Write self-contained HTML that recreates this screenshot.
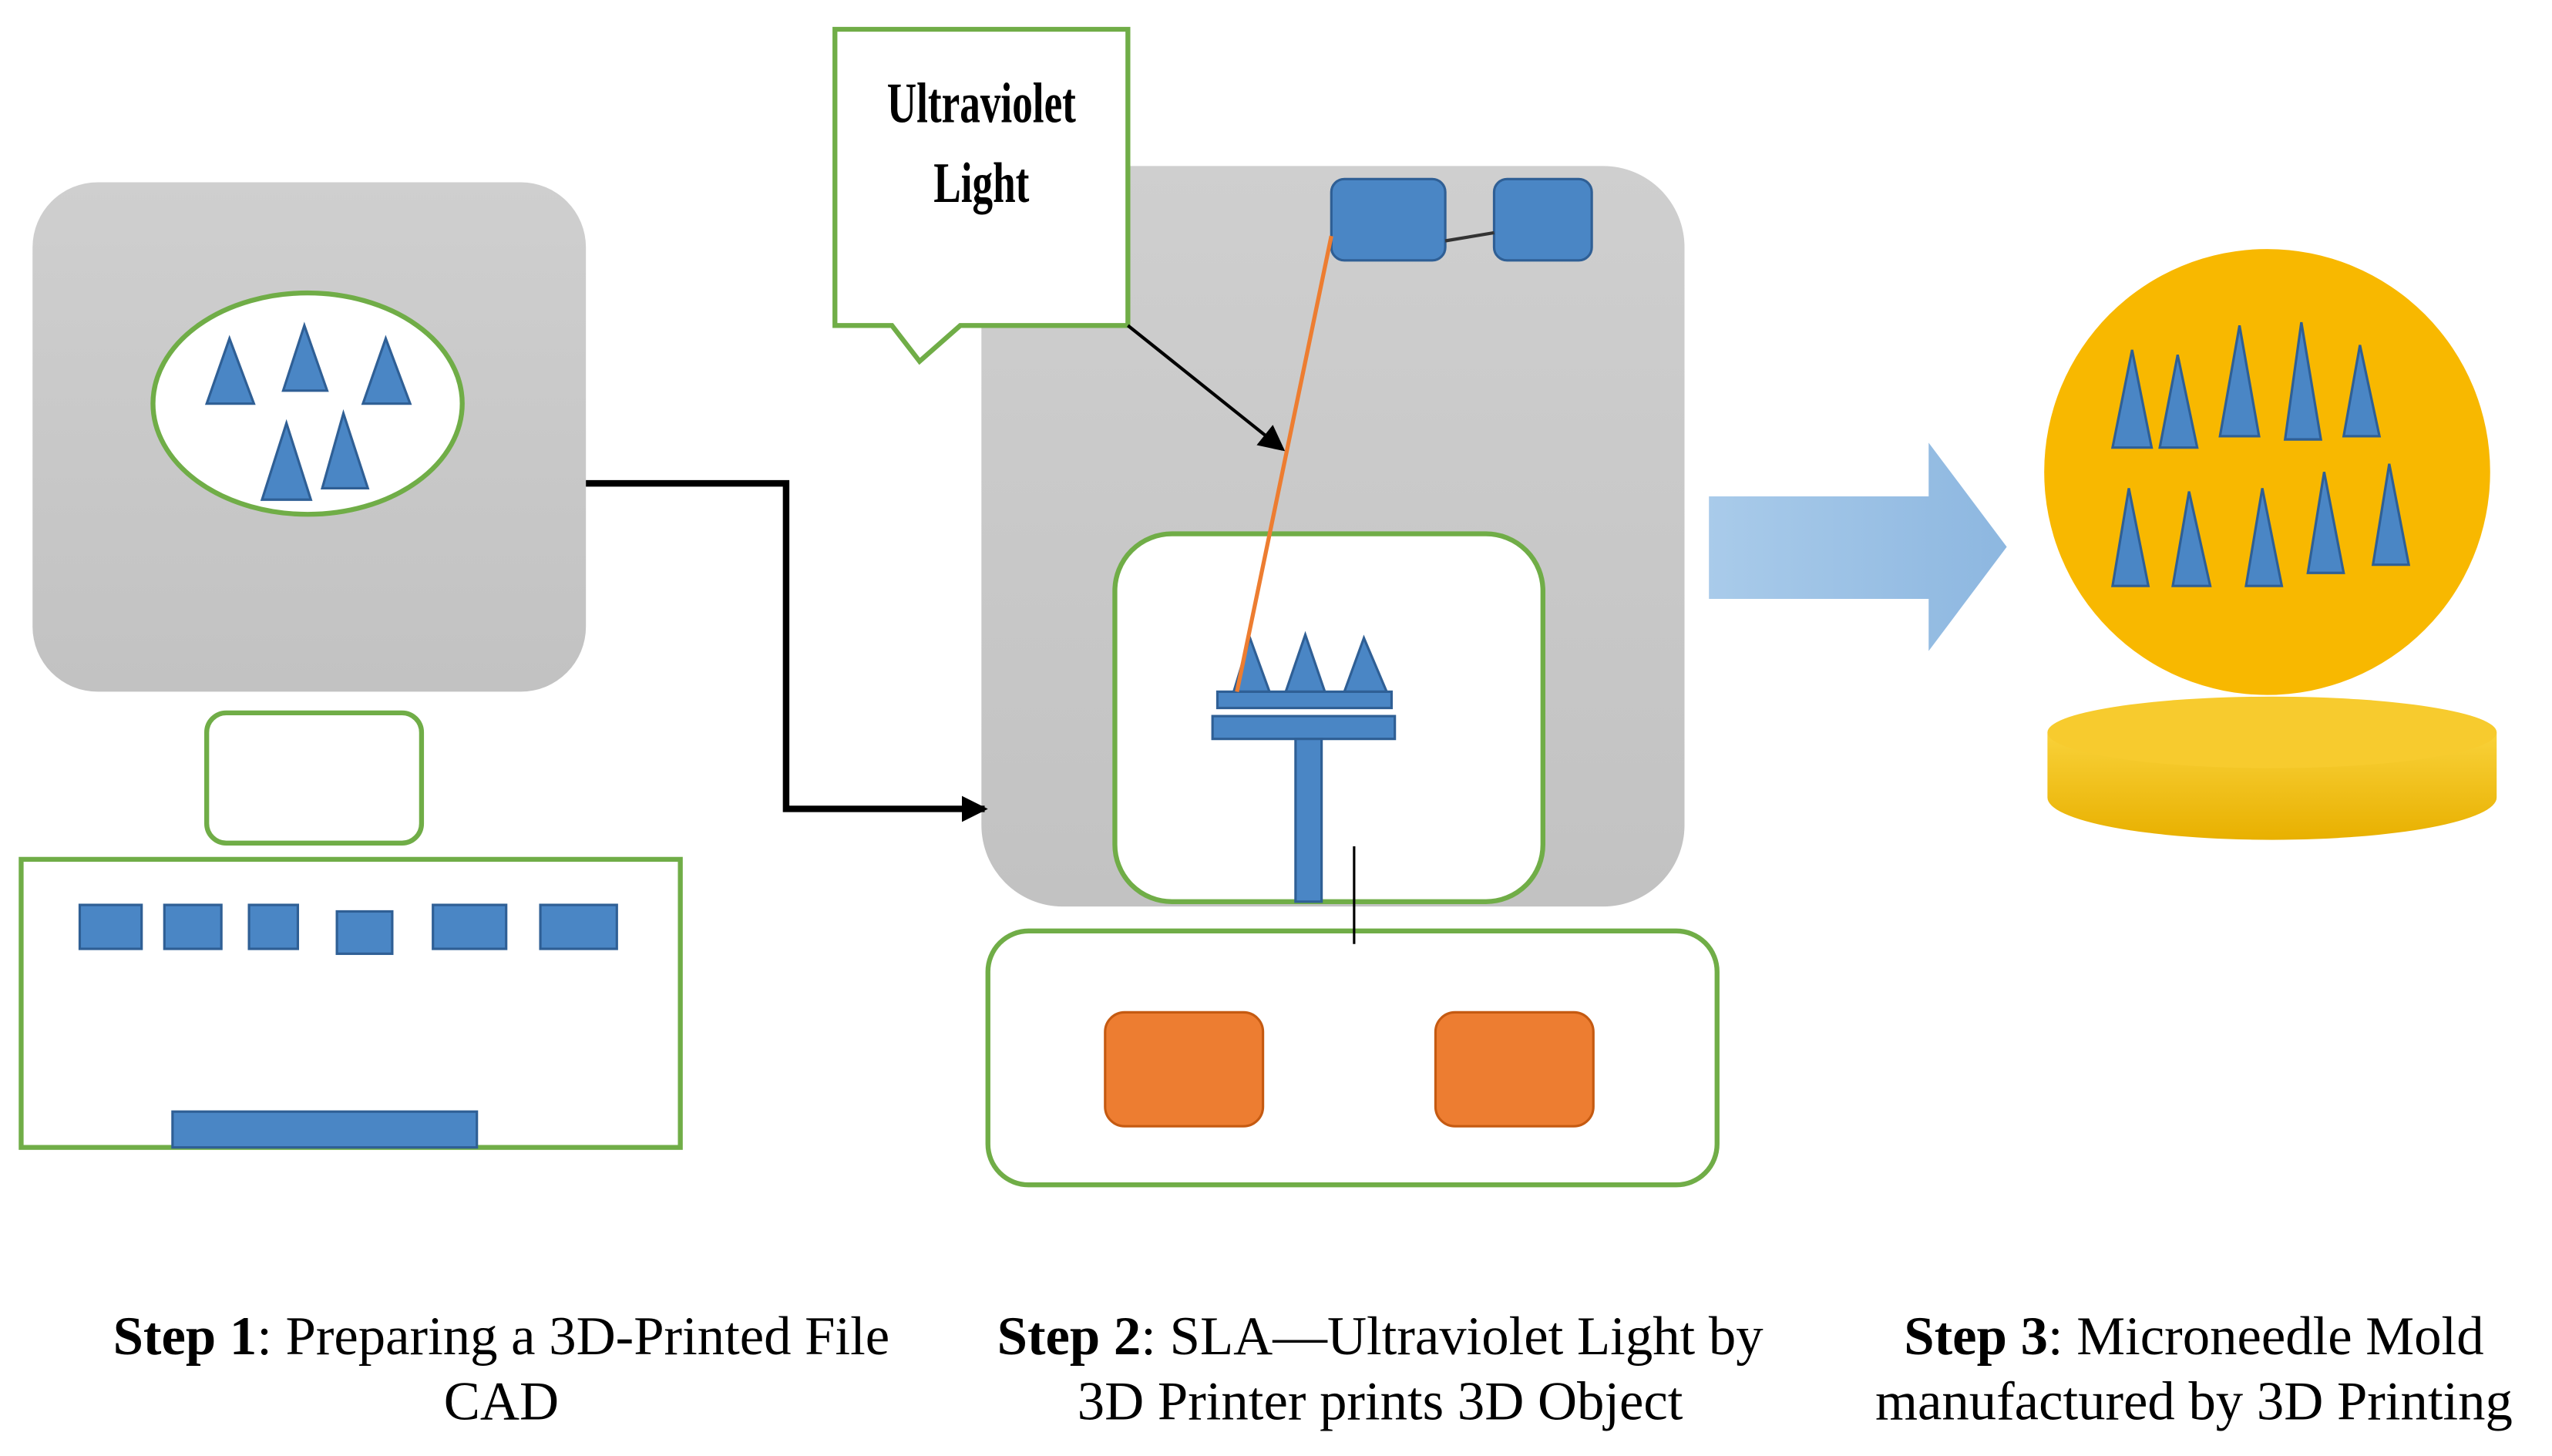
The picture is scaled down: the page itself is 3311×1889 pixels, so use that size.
<!DOCTYPE html>
<html><head><meta charset="utf-8"><style>html,body{margin:0;padding:0;background:#fff}svg{display:block}</style></head><body>
<svg width="3311" height="1889" viewBox="0 0 1568 894.6" preserveAspectRatio="none" xmlns="http://www.w3.org/2000/svg">
<defs>
<linearGradient id="g1" x1="0" y1="0" x2="0" y2="1"><stop offset="0" stop-color="#cfcfcf"/><stop offset="1" stop-color="#c2c2c2"/></linearGradient>
<linearGradient id="ar" x1="0" y1="0" x2="1" y2="0"><stop offset="0" stop-color="#a9cbea"/><stop offset="1" stop-color="#8db7e0"/></linearGradient>
<linearGradient id="cy" x1="0" y1="0" x2="0" y2="1"><stop offset="0" stop-color="#f9d23a"/><stop offset="1" stop-color="#e8b000"/></linearGradient>
<marker id="ah" markerWidth="16" markerHeight="16" refX="14" refY="8" orient="auto" markerUnits="userSpaceOnUse"><path d="M0,0 L16,8 L0,16z" fill="#000"/></marker>
</defs>
<g stroke="#70ad47" stroke-width="3" fill="#fff">
<rect x="20" y="112" width="340" height="313" rx="40" fill="url(#g1)" stroke="none"/>
<ellipse cx="189" cy="248" rx="95" ry="68"/>
<rect x="127" y="438" width="132" height="80" rx="12"/>
<rect x="13" y="528" width="405" height="177"/>
<rect x="603" y="102" width="432" height="455" rx="50" fill="url(#g1)" stroke="none"/>
<rect x="685" y="328" width="263" height="226" rx="35"/>
<rect x="607" y="572" width="448" height="156" rx="25"/>
<path d="M513,18 H693 V200 H590 L565,222 L548,200 H513 Z"/>
</g>
<g fill="#4a86c5" stroke="#2f5f95" stroke-width="1.5">
<path d="M141,208 L127,248 L156,248Z M187,200 L174,240 L201,240Z M237,208 L223,248 L252,248Z M176,260 L161,307 L191,307Z M211,254 L198,300 L226,300Z"/>
<rect x="49" y="556" width="38" height="27"/><rect x="101" y="556" width="35" height="27"/><rect x="153" y="556" width="30" height="27"/><rect x="207" y="560" width="34" height="26"/><rect x="266" y="556" width="45" height="27"/><rect x="332" y="556" width="47" height="27"/>
<rect x="106" y="683" width="187" height="22"/>
<rect x="818" y="110" width="70" height="50" rx="8"/><rect x="918" y="110" width="60" height="50" rx="8"/>
<path d="M768,392 L758,425 L780,425Z M802,390 L790,425 L814,425Z M838,392 L826,425 L852,425Z"/>
<rect x="748" y="425" width="107" height="10"/><rect x="745" y="440" width="112" height="14"/><rect x="796" y="454" width="16" height="100"/>
</g>
<line x1="888" y1="148" x2="918" y2="143" stroke="#333" stroke-width="2"/>
<g fill="#ed7d31" stroke="#c55a11" stroke-width="1.5"><rect x="679" y="622" width="97" height="70" rx="12"/><rect x="882" y="622" width="97" height="70" rx="12"/></g>
<polyline points="360,297 483,297 483,497 605,497" fill="none" stroke="#000" stroke-width="4" marker-end="url(#ah)"/>
<line x1="693" y1="200" x2="788" y2="276" stroke="#000" stroke-width="2" marker-end="url(#ah)"/>
<line x1="818" y1="145" x2="760" y2="425" stroke="#ed7d31" stroke-width="2.5"/>
<line x1="832" y1="520" x2="832" y2="580" stroke="#000" stroke-width="1.5"/>
<path d="M1050,305 H1185 V272 L1233,336 L1185,400 V368 H1050 Z" fill="url(#ar)"/>
<path d="M1258,450 V490 A138,26 0 0 0 1534,490 V450 Z" fill="url(#cy)"/>
<ellipse cx="1396" cy="450" rx="138" ry="22" fill="#f7cb2e"/>
<circle cx="1393" cy="290" r="137" fill="#f8b800"/>
<g fill="#4a86c5" stroke="#2f5f95" stroke-width="1.5">
<path d="M1310,215 L1298,275 L1322,275Z M1338,218 L1327,275 L1350,275Z M1376,200 L1364,268 L1388,268Z M1414,198 L1404,270 L1426,270Z M1450,212 L1440,268 L1462,268Z M1308,300 L1298,360 L1320,360Z M1345,302 L1335,360 L1358,360Z M1390,300 L1380,360 L1402,360Z M1428,290 L1418,352 L1440,352Z M1468,285 L1458,347 L1480,347Z"/>
</g>
<g font-family="'Liberation Serif',serif" font-size="33.5" fill="#000" text-anchor="middle">
<text x="603" y="75" font-size="35" font-weight="bold" transform="translate(603 0) scale(0.72 1) translate(-603 0)">Ultraviolet</text>
<text x="603" y="124" font-size="35" font-weight="bold" transform="translate(603 0) scale(0.72 1) translate(-603 0)">Light</text>
<text x="308" y="832"><tspan font-weight="bold">Step 1</tspan>: Preparing a 3D-Printed File</text>
<text x="308" y="872">CAD</text>
<text x="848" y="832"><tspan font-weight="bold">Step 2</tspan>: SLA—Ultraviolet Light by</text>
<text x="848" y="872">3D Printer prints 3D Object</text>
<text x="1348" y="832"><tspan font-weight="bold">Step 3</tspan>: Microneedle Mold</text>
<text x="1348" y="872">manufactured by 3D Printing</text>
</g>
</svg>
</body></html>
